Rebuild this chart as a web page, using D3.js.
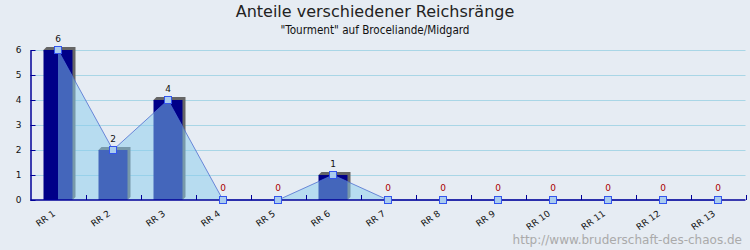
<!DOCTYPE html>
<html>
<head>
<meta charset="utf-8">
<script src="https://cdn.jsdelivr.net/npm/d3@7"></script>
<style>
  body { margin: 0; background: #e6ecf3; }
  svg { display: block; font-family: "DejaVu Sans", sans-serif; }
</style>
</head>
<body>
<div id="chart"></div>
<script>
// data
var ranks = ["RR 1", "RR 2", "RR 3", "RR 4", "RR 5", "RR 6", "RR 7", "RR 8", "RR 9", "RR 10", "RR 11", "RR 12", "RR 13"];
var counts = [6, 2, 4, 0, 0, 1, 0, 0, 0, 0, 0, 0, 0];
var yTicks = [0, 1, 2, 3, 4, 5, 6];

var width = 750, height = 250;
var pLeft = 30.5, pRight = 745.5, pTop = 50, pBottom = 200;

var svg = d3.select("#chart").append("svg")
    .attr("width", width)
    .attr("height", height);

svg.append("rect").attr("width", width).attr("height", height).attr("fill", "#e6ecf3");

var x = d3.scaleBand().domain(ranks).range([pLeft, pRight]);
var y = d3.scaleLinear().domain([0, 6]).range([pBottom, pTop]);

var data = ranks.map(function(r, i) { return {rank: r, value: counts[i]}; });

// titles
svg.append("text")
    .attr("x", 375).attr("y", 17)
    .attr("text-anchor", "middle")
    .style("font-size", "16px")
    .attr("fill", "#222")
    .text("Anteile verschiedener Reichsränge");
svg.append("text")
    .attr("x", 375).attr("y", 34)
    .attr("text-anchor", "middle")
    .style("font-size", "11.6px")
    .style("font-family", "'DejaVu Sans Condensed', 'DejaVu Sans'")
    .attr("fill", "#111")
    .text("\"Tourment\" auf Broceliande/Midgard");

// gridlines
svg.append("g").selectAll("line")
    .data(yTicks.filter(function(d) { return d > 0; }))
    .join("line")
    .attr("x1", pLeft).attr("x2", pRight)
    .attr("y1", function(d) { return y(d) + 0.5; })
    .attr("y2", function(d) { return y(d) + 0.5; })
    .attr("stroke", "#a9d6e6");

// bars with 3d shadow
var bw = 29, off = 3;
var bars = svg.append("g").selectAll("g")
    .data(data.filter(function(d) { return d.value > 0; }))
    .join("g");
bars.append("polygon")
    .attr("points", function(d) {
        var bx = x(d.rank) + x.bandwidth() / 2 - 14.5, by = y(d.value), b0 = y(0);
        return [[bx, by], [bx + off, by - off], [bx + bw + off, by - off],
                [bx + bw + off, b0 - off], [bx + bw, b0]].join(" ");
    })
    .attr("fill", "#666");
bars.append("rect")
    .attr("x", function(d) { return x(d.rank) + x.bandwidth() / 2 - 14.5; })
    .attr("y", function(d) { return y(d.value); })
    .attr("width", bw)
    .attr("height", function(d) { return y(0) - y(d.value); })
    .attr("fill", "#000088");

// area + line
var cx = function(d) { return x(d.rank) + x.bandwidth() / 2; };
svg.append("path")
    .datum(data)
    .attr("d", d3.area().x(cx).y0(y(0)).y1(function(d) { return y(d.value); }))
    .attr("fill", "#88ccee")
    .attr("fill-opacity", 0.5);
svg.append("path")
    .datum(data)
    .attr("d", d3.line().x(cx).y(function(d) { return y(d.value); }))
    .attr("fill", "none")
    .attr("stroke", "#4f6fd0")
    .attr("stroke-width", 0.8);

// axes
var xAxis = svg.append("g").attr("transform", "translate(0," + pBottom + ")");
xAxis.append("line").attr("x1", pLeft).attr("x2", pRight).attr("stroke", "#000099").attr("stroke-width", 1.5);
xAxis.selectAll(".tk")
    .data(ranks)
    .join("line")
    .attr("x1", function(d) { return Math.round(x(d) + x.bandwidth()) + 0.5; })
    .attr("x2", function(d) { return Math.round(x(d) + x.bandwidth()) + 0.5; })
    .attr("y1", 0).attr("y2", -5)
    .attr("stroke", "#000099");
xAxis.selectAll(".lbl")
    .data(ranks)
    .join("text")
    .attr("transform", function(d) { return "translate(" + (x(d) + x.bandwidth() / 2 - 2) + ",15) rotate(-35)"; })
    .attr("text-anchor", "end")
    .style("font-size", "9px")
    .attr("fill", "#111")
    .text(function(d) { return d; });

var yAxis = svg.append("g")
    .attr("transform", "translate(" + pLeft + ",0)")
    .call(d3.axisLeft(y).tickValues(yTicks).tickFormat(d3.format("d")).tickSize(-5).tickPadding(9).tickSizeOuter(0));
yAxis.select(".domain").attr("stroke", "#000099").attr("stroke-width", 1.5);
yAxis.selectAll(".tick line").attr("stroke", "#000099");
yAxis.selectAll(".tick text").style("font-size", "9px").style("font-family", "'DejaVu Sans'").attr("fill", "#111");

// markers
svg.append("g").selectAll("rect")
    .data(data)
    .join("rect")
    .attr("x", function(d) { return cx(d) - 3.5; })
    .attr("y", function(d) { return y(d.value) - 3.5; })
    .attr("width", 7).attr("height", 7)
    .attr("fill", "#aaccee")
    .attr("stroke", "#3355ee");

// value labels
svg.append("g").selectAll("text")
    .data(data)
    .join("text")
    .attr("x", cx)
    .attr("y", function(d) { return d.value > 0 ? y(d.value) - 8 : y(0) - 9; })
    .attr("text-anchor", "middle")
    .style("font-size", "9px")
    .attr("fill", function(d) { return d.value > 0 ? "#111" : "#aa0000"; })
    .text(function(d) { return d.value; });

// watermark
svg.append("text")
    .attr("x", 742).attr("y", 244)
    .attr("text-anchor", "end")
    .style("font-size", "12px")
    .attr("fill", "#aaaaaa")
    .text("http://www.bruderschaft-des-chaos.de");
</script>
</body>
</html>
